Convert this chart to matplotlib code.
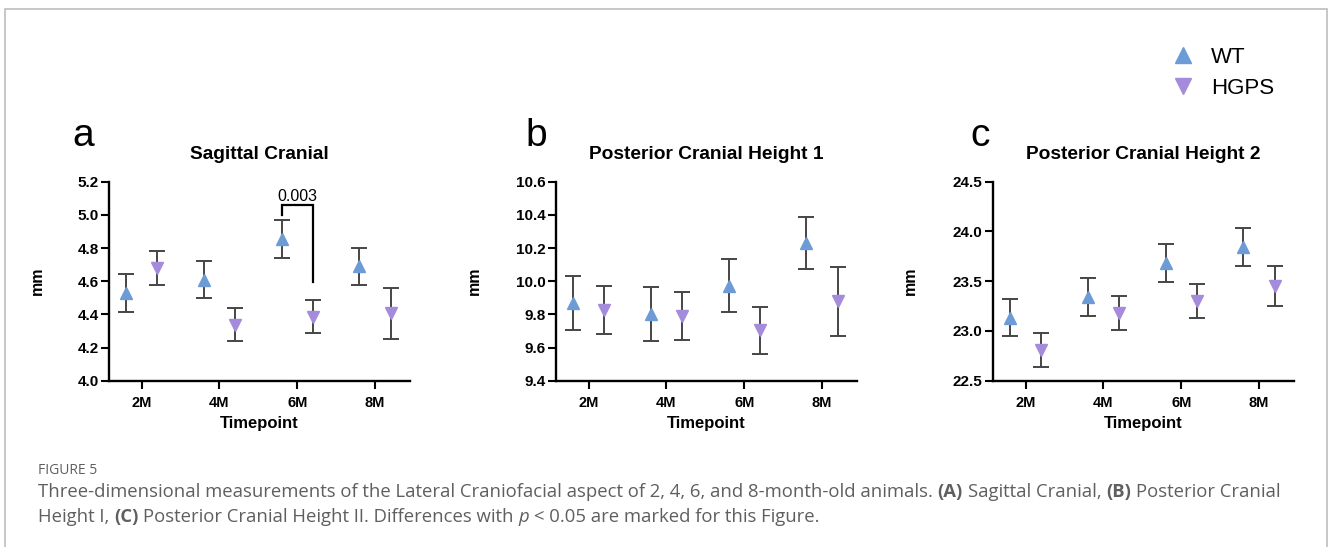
import numpy as np
import matplotlib
matplotlib.use("Agg")
import matplotlib.pyplot as plt
from matplotlib.lines import Line2D
from matplotlib.patches import Rectangle

plt.rcParams["font.family"] = ["Liberation Sans", "DejaVu Sans"]

# ── data ──
timepoints = ["2M", "4M", "6M", "8M"]

sag_wt = [4.53, 4.61, 4.855, 4.69]
sag_wt_err = [0.113, 0.113, 0.113, 0.113]
sag_hgps = [4.68, 4.337, 4.385, 4.406]
sag_hgps_err = [0.10, 0.10, 0.10, 0.153]

pch1_wt = [9.869, 9.803, 9.974, 10.23]
pch1_wt_err = [0.161, 0.161, 0.161, 0.159]
pch1_hgps = [9.829, 9.79, 9.703, 9.878]
pch1_hgps_err = [0.145, 0.144, 0.142, 0.21]

pch2_wt = [23.134, 23.34, 23.68, 23.847]
pch2_wt_err = [0.188, 0.188, 0.19, 0.19]
pch2_hgps = [22.81, 23.18, 23.30, 23.45]
pch2_hgps_err = [0.168, 0.168, 0.168, 0.20]

panel_letters = ["a", "b", "c"]
panel_titles = ["Sagittal Cranial", "Posterior Cranial Height 1", "Posterior Cranial Height 2"]
ylims = [(4.0, 5.2), (9.4, 10.6), (22.5, 24.5)]
ysteps = [0.2, 0.2, 0.5]

sig_label = "0.003"
sig_index = 2  # 6M

WT_COLOR = "#6c9bd6"
HGPS_COLOR = "#a58bdb"
ERR_COLOR = "#454545"

panels = [
    (sag_wt, sag_wt_err, sag_hgps, sag_hgps_err),
    (pch1_wt, pch1_wt_err, pch1_hgps, pch1_hgps_err),
    (pch2_wt, pch2_wt_err, pch2_hgps, pch2_hgps_err),
]

fig = plt.figure(figsize=(13.28, 5.47), dpi=100)
W, H = 1328, 547

# light frame around the figure area
fig.patches.append(Rectangle((4.5 / W, -0.1), 1322 / W, 1.1 - 9 / H, transform=fig.transFigure,
                             fill=False, edgecolor="#bdbdbd", linewidth=1.2))

ax_lefts = [109, 556, 993]
ylabel_x = [-0.213, -0.247, -0.25]
letter_x = [-0.086, -0.064, -0.043]
offset = 0.2
x = np.arange(len(timepoints))

for i, (wt, wt_err, hg, hg_err) in enumerate(panels):
    ax = fig.add_axes([ax_lefts[i] / W, 1 - 380.7 / H, 301 / W, 199 / H])
    ax.errorbar(x - offset, wt, yerr=wt_err, fmt="^", color=WT_COLOR, ms=8,
                ecolor=ERR_COLOR, elinewidth=1.4, capsize=5.5, capthick=1.4, mec=WT_COLOR)
    ax.errorbar(x + offset, hg, yerr=hg_err, fmt="v", color=HGPS_COLOR, ms=8,
                ecolor=ERR_COLOR, elinewidth=1.4, capsize=5.5, capthick=1.4, mec=HGPS_COLOR)

    lo, hi = ylims[i]
    ax.set_ylim(lo, hi)
    ax.set_xlim(-0.42, 3.45)
    ax.set_yticks(np.arange(lo, hi + 1e-9, ysteps[i]))
    ax.yaxis.set_major_formatter(matplotlib.ticker.FormatStrFormatter("%.1f"))
    ax.set_xticks(x)
    ax.set_xticklabels(timepoints)
    for lab in ax.get_yticklabels():
        lab.set_fontweight("bold")
    for lab in ax.get_xticklabels():
        lab.set_fontweight("bold")
    ax.tick_params(axis="y", labelsize=11, length=6, width=1.5, pad=1.5)
    ax.tick_params(axis="x", labelsize=10.5, length=6, width=1.5, pad=5)
    for s in ["top", "right"]:
        ax.spines[s].set_visible(False)
    for s in ["left", "bottom"]:
        ax.spines[s].set_linewidth(1.7)

    ax.set_xlabel("Timepoint", fontsize=12, fontweight="bold", labelpad=4)
    ax.set_ylabel("mm", fontsize=11.5, fontweight="bold")
    ax.yaxis.set_label_coords(ylabel_x[i], 0.5)
    ax.set_title(panel_titles[i], fontsize=13.8, fontweight="bold", pad=16)
    ax.text(letter_x[i], 1.14, panel_letters[i], transform=ax.transAxes, fontsize=28,
            ha="center", va="bottom")

    if i == 0:
        # significance bracket between WT and HGPS at 6M
        xl, xr = sig_index - offset, sig_index + offset
        ytop = 5.06
        ax.plot([xl, xl, xr, xr], [5.0, ytop, ytop, 4.597], color="black", lw=1.6,
                clip_on=False, solid_joinstyle="miter")
        ax.text((xl + xr) / 2, ytop + 0.004, sig_label, ha="center", va="bottom",
                fontsize=11.5, clip_on=False)

# legend
handles = [
    Line2D([], [], marker="^", ls="none", color=WT_COLOR, ms=12),
    Line2D([], [], marker="v", ls="none", color=HGPS_COLOR, ms=12),
]
fig.legend(handles, ["WT", "HGPS"], loc="upper left", bbox_to_anchor=(1161 / W, 1 - 36 / H),
           frameon=False, fontsize=16, handlelength=1.0, handletextpad=0.75,
           labelspacing=0.45, borderpad=0)

# caption
cap_color = "#5f5f5f"
fig.text(38 / W, 1 - 471 / H, "FIGURE 5", fontsize=10, color=cap_color,
         family="Open Sans", va="center")

renderer = fig.canvas.get_renderer()


def text_width(s, **kw):
    t = fig.text(0, 0, s, **kw)
    w = t.get_window_extent(renderer).width
    t.remove()
    return w


base = dict(fontsize=13.3, color=cap_color, family="Open Sans")
space_w = text_width("a a", **base) - text_width("aa", **base)

caption_lines = [
    [("Three-dimensional measurements of the Lateral Craniofacial aspect of 2, 4, 6, and "
      "8-month-old animals.", {}), ("(A)", {"fontweight": "bold"}), ("Sagittal Cranial,", {}),
     ("(B)", {"fontweight": "bold"}), ("Posterior Cranial", {})],
    [("Height I,", {}), ("(C)", {"fontweight": "bold"}),
     ("Posterior Cranial Height II. Differences with", {}), ("p", {"fontstyle": "italic"}),
     ("< 0.05 are marked for this Figure.", {})],
]
line_y = [492, 517]
for line, yy in zip(caption_lines, line_y):
    xpx = 38
    for s, extra in line:
        kw = dict(base, **extra)
        fig.text(xpx / W, 1 - yy / H, s, va="center", **kw)
        xpx += text_width(s, **kw) + space_w

fig.savefig("out.png", dpi=100)
